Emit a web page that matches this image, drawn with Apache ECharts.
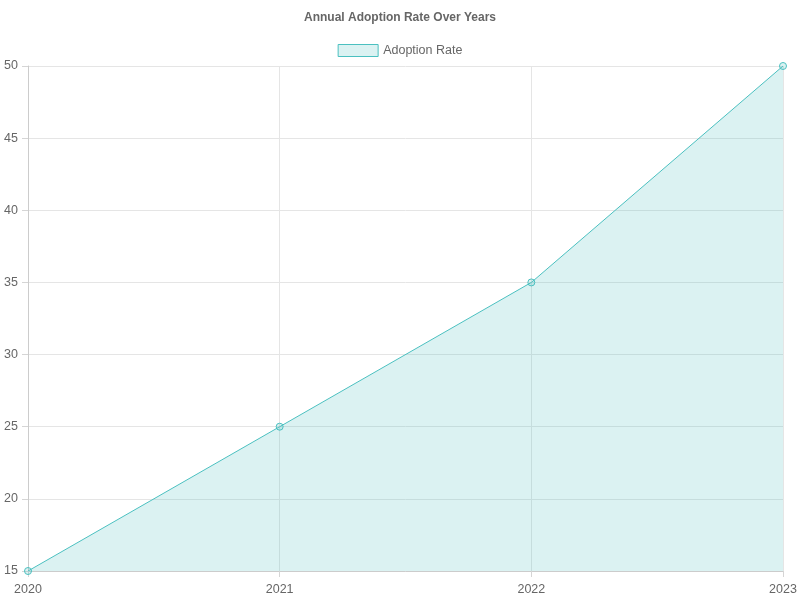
<!DOCTYPE html>
<html>
<head>
<meta charset="utf-8">
<script src="https://cdn.jsdelivr.net/npm/echarts@6/dist/echarts.min.js"></script>
<style>
  html, body { margin: 0; padding: 0; background: #fff; }
  #chart { width: 800px; height: 600px; }
</style>
</head>
<body>
<div id="chart"></div>
<script>
// data
var years = ['2020', '2021', '2022', '2023'];
var adoptionRate = [15, 25, 35, 50];

var chart = echarts.init(document.getElementById('chart'));
var option = {
  animation: false,
  title: {
    text: 'Annual Adoption Rate Over Years',
    left: 'center',
    top: 7,
    textStyle: { fontFamily: 'Liberation Sans', fontSize: 12, fontWeight: 'bold', color: '#666' }
  },
  legend: {
    top: 39,
    left: 'center',
    itemWidth: 40,
    itemHeight: 12,
    itemGap: 8,
    icon: 'rect',
    itemStyle: { color: 'rgba(75,192,192,0.2)', borderColor: 'rgb(75,192,192)', borderWidth: 1 },
    textStyle: { fontFamily: 'Liberation Sans', fontSize: 12.5, color: '#666' },
    data: ['Adoption Rate']
  },
  grid: { left: 28, right: 17, top: 66, bottom: 29 },
  xAxis: {
    type: 'category',
    boundaryGap: false,
    data: years,
    axisLine: { show: true, lineStyle: { color: '#ccc' } },
    axisTick: { show: true, length: 6, lineStyle: { color: '#d5d5d5' } },
    axisLabel: { fontFamily: 'Liberation Sans', fontSize: 12.5, color: '#666', margin: 12 },
    splitLine: { show: true, lineStyle: { color: '#e5e5e5' } }
  },
  yAxis: {
    type: 'value',
    min: 15,
    max: 50,
    interval: 5,
    axisLine: { show: true, lineStyle: { color: '#ccc' } },
    axisTick: { show: true, length: 6, lineStyle: { color: '#d5d5d5' } },
    axisLabel: { fontFamily: 'Liberation Sans', fontSize: 12.5, color: '#666', margin: 10, padding: [6, 0, 0, 0] },
    splitLine: { show: true, lineStyle: { color: '#e5e5e5' } }
  },
  series: [{
    name: 'Adoption Rate',
    type: 'line',
    data: adoptionRate,
    symbol: 'circle',
    symbolSize: 7,
    showAllSymbol: true,
    itemStyle: { color: 'rgba(75,192,192,0.2)', borderColor: 'rgb(75,192,192)', borderWidth: 1 },
    lineStyle: { color: 'rgb(75,192,192)', width: 1 },
    areaStyle: { color: 'rgba(75,192,192,0.2)', opacity: 1, origin: 'start' }
  }]
};
chart.setOption(option);
</script>
</body>
</html>
